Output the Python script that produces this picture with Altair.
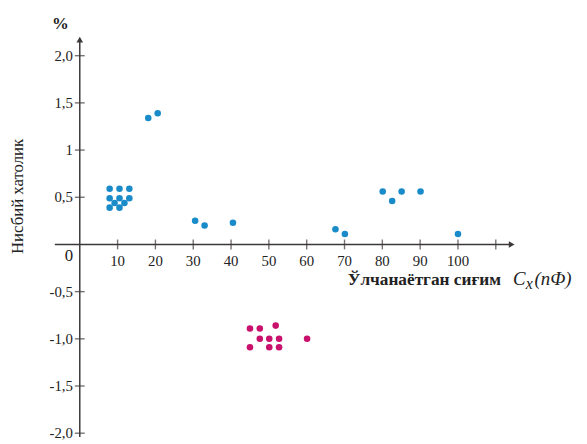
import altair as alt
import pandas as pd

# ---- data ----
blue_x = [7.9, 10.5, 13.1, 7.9, 10.5, 13.1, 9.2, 11.8, 7.9, 10.5,
          18.1, 20.6, 30.5, 33.0, 40.5, 67.6, 70.1, 80.1, 82.6, 85.1, 90.1, 100.0]
blue_y = [0.59, 0.59, 0.59, 0.49, 0.49, 0.49, 0.44, 0.44, 0.39, 0.39,
          1.34, 1.39, 0.25, 0.20, 0.23, 0.16, 0.11, 0.56, 0.46, 0.56, 0.56, 0.11]
pink_x = [45.0, 47.6, 51.8, 47.6, 50.1, 52.7, 45.0, 50.1, 52.7, 60.1]
pink_y = [-0.89, -0.89, -0.86, -1.0, -1.0, -1.0, -1.09, -1.09, -1.09, -1.0]

x_ticks = [10, 20, 30, 40, 50, 60, 70, 80, 90, 100, 110]
x_tick_labels = ["10", "20", "30", "40", "50", "60", "70", "80", "90", "100", ""]
y_ticks = [2.0, 1.5, 1.0, 0.5, -0.5, -1.0, -1.5, -2.0]
y_tick_labels = ["2,0", "1,5", "1", "0,5", "-0,5", "-1,0", "-1,5", "-2,0"]

BLUE = "#1a8bc9"
PINK = "#c8106c"
AXIS = "#3d3838"
SERIF = "Liberation Serif"

xs = alt.Scale(domain=[-18.98, 132.0], nice=False, zero=False)
ys = alt.Scale(domain=[-2.0825, 2.4734], nice=False, zero=False)

pts = pd.DataFrame({
    "x": blue_x + pink_x,
    "y": blue_y + pink_y,
    "g": ["b"] * len(blue_x) + ["p"] * len(pink_x),
})
xt = pd.DataFrame({"v": x_ticks, "lab": x_tick_labels, "z": 0.0})
yt = pd.DataFrame({"v": y_ticks, "lab": y_tick_labels, "z": 0.0})

X = lambda f: alt.X(f, type="quantitative", scale=xs, axis=None)
Y = lambda f: alt.Y(f, type="quantitative", scale=ys, axis=None)

one = pd.DataFrame({"a": [0]})

# axes lines
yaxis = alt.Chart(pd.DataFrame({"x": [0.0], "y1": [-2.04], "y2": [2.15]})).mark_rule(
    color=AXIS, strokeWidth=1.5).encode(x=X("x"), y=Y("y1"), y2="y2")
xaxis = alt.Chart(pd.DataFrame({"y": [0.0], "x1": [-6.6], "x2": [113.5]})).mark_rule(
    color=AXIS, strokeWidth=1.5).encode(y=Y("y"), x=X("x1"), x2="x2")
yarrow = alt.Chart(pd.DataFrame({"x": [0.0], "y": [2.17]})).mark_point(
    shape="triangle-up", filled=True, size=45, color=AXIS, opacity=1).encode(x=X("x"), y=Y("y"))
xarrow = alt.Chart(pd.DataFrame({"x": [114.2], "y": [0.0]})).mark_point(
    shape="triangle-right", filled=True, size=45, color=AXIS, opacity=1).encode(x=X("x"), y=Y("y"))

xticks = alt.Chart(xt).mark_tick(orient="vertical", size=10, thickness=1.4, color=AXIS).encode(
    x=X("v"), y=Y("z"))
yticks = alt.Chart(yt).mark_tick(orient="horizontal", size=10, thickness=1.4, color=AXIS).encode(
    x=X("z"), y=Y("v"))

xlabels = alt.Chart(xt).mark_text(font=SERIF, fontSize=15, color="#222", align="center",
                                  baseline="alphabetic", dy=22).encode(
    x=X("v"), y=Y("z"), text="lab:N")
ylabels = alt.Chart(yt).mark_text(font=SERIF, fontSize=15, color="#222", align="right",
                                  baseline="middle", dx=-7).encode(
    x=X("z"), y=Y("v"), text="lab:N")
zero = alt.Chart(pd.DataFrame({"x": [0.0], "y": [0.0], "t": ["0"]})).mark_text(
    font=SERIF, fontSize=17, color="#222", align="center", baseline="alphabetic", dx=-11, dy=17).encode(
    x=X("x"), y=Y("y"), text="t:N")

points = alt.Chart(pts).mark_circle(size=44, opacity=1).encode(
    x=X("x"), y=Y("y"),
    color=alt.Color("g:N", scale=alt.Scale(domain=["b", "p"], range=[BLUE, PINK]), legend=None))

pct = alt.Chart(one).mark_text(text="%", font=SERIF, fontSize=17, fontWeight="bold", color="#222",
                               align="center", baseline="alphabetic").encode(
    x=alt.value(53), y=alt.value(18))
ytitle = alt.Chart(one).mark_text(text="Нисбий хатолик", font=SERIF, fontSize=17, color="#222",
                                  angle=270, align="center", baseline="middle").encode(
    x=alt.value(10.5), y=alt.value(188))
xtitle = alt.Chart(one).mark_text(text="Ўлчанаётган сиғим", font=SERIF, fontSize=17.5,
                                  fontWeight="bold", color="#222", align="left",
                                  baseline="alphabetic").encode(
    x=alt.value(344.5), y=alt.value(278))
ctext = alt.Chart(one).mark_text(text="C", font=SERIF, fontSize=19, fontStyle="italic", color="#222",
                                 align="left", baseline="alphabetic").encode(
    x=alt.value(512), y=alt.value(278))
xsub = alt.Chart(one).mark_text(text="x", font=SERIF, fontSize=16, fontStyle="italic", color="#222",
                                align="left", baseline="alphabetic").encode(
    x=alt.value(525), y=alt.value(282))
unit = alt.Chart(one).mark_text(text="(nФ)", font=SERIF, fontSize=19, fontStyle="italic", color="#222",
                                align="left", baseline="alphabetic").encode(
    x=alt.value(534), y=alt.value(278))

chart = alt.layer(
    yaxis, xaxis, yarrow, xarrow, xticks, yticks, xlabels, ylabels, zero,
    points, pct, ytitle, xtitle, ctext, xsub, unit
).properties(
    width=579, height=436,
    autosize=alt.AutoSizeParams(type="none"),
    padding=0,
    background="white",
).configure_view(stroke=None)

chart.save("out.html", embed_options={"renderer": "svg", "actions": False})
